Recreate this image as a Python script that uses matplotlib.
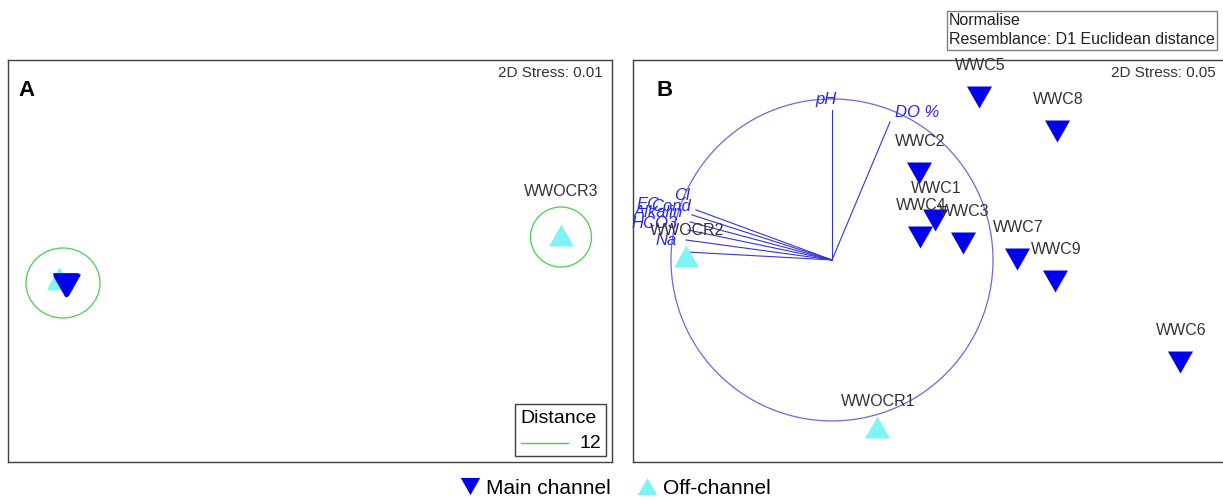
"""
nMDS ordinations of water chemistry: A) bubble plot, B) with vector overlay.
Writes out.png
"""

import matplotlib
matplotlib.use("Agg")
import matplotlib.pyplot as plt
from matplotlib.lines import Line2D
from matplotlib.patches import Ellipse, Rectangle

plt.rcParams["font.family"] = ["Liberation Sans", "DejaVu Sans"]

# ── Data ──────────────────────────────────────────────────────────────
# panel A: MDS coordinates
A_MAIN_X = [-2.45, -2.44, -2.43, -2.45, -2.44, -2.42, -2.45, -2.43, -2.44]
A_MAIN_Y = [-0.23, -0.24, -0.25, -0.23, -0.25, -0.24, -0.25, -0.23, -0.24]
A_OFF_X = [-2.51, -2.50, 2.51]
A_OFF_Y = [-0.17, -0.18, 0.26]
A_OFF_LABELS = ["", "", "WWOCR3"]
# distance bubbles (centre x, centre y, width, height)
A_BUBBLE_X = [-2.47, 2.51]
A_BUBBLE_Y = [-0.22, 0.24]
A_BUBBLE_W = [0.74, 0.61]
A_BUBBLE_H = [0.70, 0.60]
A_STRESS = 0.01
DISTANCE = 12

# panel B: MDS coordinates
B_MAIN_LABELS = ["WWC5", "WWC8", "WWC2", "WWC1", "WWC4", "WWC3", "WWC7", "WWC9", "WWC6"]
B_MAIN_X = [0.913, 1.398, 0.540, 0.640, 0.547, 0.814, 1.149, 1.385, 2.161]
B_MAIN_Y = [1.012, 0.801, 0.540, 0.248, 0.143, 0.106, 0.006, -0.130, -0.634]
B_OFF_LABELS = ["WWOCR2", "WWOCR1"]
B_OFF_X = [-0.907, 0.280]
B_OFF_Y = [0.025, -1.037]
B_STRESS = 0.05

# vector overlay (end points) and where the labels sit
VEC_NAMES = ["pH", "DO %", "Cl", "EC", "Cond", "Alkalin", "HCO3", "Na"]
VEC_X = [0.0, 0.360, -0.845, -0.870, -0.882, -0.894, -0.907, -0.913]
VEC_Y = [0.932, 0.857, 0.311, 0.280, 0.236, 0.186, 0.124, 0.050]
VEC_LAB_X = [-0.037, 0.528, -0.882, -1.068, -0.876, -0.925, -0.957, -0.963]
VEC_LAB_Y = [0.994, 0.919, 0.398, 0.342, 0.335, 0.292, 0.224, 0.118]
VEC_LAB_HA = ["center", "center", "right", "right", "right", "right", "right", "right"]

# ── Style ─────────────────────────────────────────────────────────────
MAIN_COLOR = "#0000ee"
OFF_COLOR = "#80f4f4"
VEC_COLOR = "#3535d0"
CIRCLE_COLOR = "#6a6ad8"
BUBBLE_COLOR = "#4ccc4c"
FRAME_COLOR = "#404040"
LABEL_COLOR = "#333333"

# triangles a bit wider than tall
DOWN = [(-1, 0.88), (1, 0.88), (0, -0.88)]
UP = [(-1, -0.88), (1, -0.88), (0, 0.88)]
MS = 18

fig = plt.figure(figsize=(12.23, 4.97), dpi=100)

ax_a = fig.add_axes([8 / 1223, 35 / 497, 604 / 1223, 402 / 497])
ax_b = fig.add_axes([633 / 1223, 35 / 497, 607 / 1223, 402 / 497])

for ax in (ax_a, ax_b):
    ax.set_xticks([])
    ax.set_yticks([])
    for s in ax.spines.values():
        s.set_color(FRAME_COLOR)
        s.set_linewidth(1.0)

# ── Panel A ───────────────────────────────────────────────────────────
ax_a.set_xlim(-3.02, 3.02)
ax_a.set_ylim(-2.01, 2.01)

for cx, cy, w, h in zip(A_BUBBLE_X, A_BUBBLE_Y, A_BUBBLE_W, A_BUBBLE_H):
    ax_a.add_patch(Ellipse((cx, cy), w, h, fill=False, edgecolor=BUBBLE_COLOR, lw=0.9))

ax_a.plot(A_OFF_X, A_OFF_Y, ls="none", marker=UP, ms=MS, color=OFF_COLOR, mec="none")
ax_a.plot(A_MAIN_X, A_MAIN_Y, ls="none", marker=DOWN, ms=MS, color=MAIN_COLOR, mec="none")
for x, y, lab in zip(A_OFF_X, A_OFF_Y, A_OFF_LABELS):
    if lab:
        ax_a.annotate(lab, (x, y), xytext=(0, 31), textcoords="offset points",
                      ha="center", va="center", fontsize=11.5, color=LABEL_COLOR)

ax_a.text(0.985, 0.968, f"2D Stress: {A_STRESS:.2f}", transform=ax_a.transAxes,
          ha="right", va="center", fontsize=11, color=LABEL_COLOR)
ax_a.text(0.018, 0.923, "A", transform=ax_a.transAxes, ha="left", va="center",
          fontsize=16, fontweight="bold")

# distance key
ax_a.add_patch(Rectangle((0.839, 0.015), 0.151, 0.129, transform=ax_a.transAxes,
                         fill=False, edgecolor=FRAME_COLOR, lw=1.0))
ax_a.text(0.912, 0.108, "Distance", transform=ax_a.transAxes, ha="center",
          va="center", fontsize=14)
ax_a.plot([0.849, 0.927], [0.047, 0.047], transform=ax_a.transAxes,
          color=BUBBLE_COLOR, lw=1.0)
ax_a.text(0.982, 0.047, str(DISTANCE), transform=ax_a.transAxes, ha="right",
          va="center", fontsize=14)

# ── Panel B ───────────────────────────────────────────────────────────
ax_b.set_xlim(-1.236, 2.534)
ax_b.set_ylim(-1.255, 1.242)

ax_b.add_patch(Ellipse((0, 0), 2, 2, fill=False, edgecolor=CIRCLE_COLOR, lw=0.9))
for vx, vy in zip(VEC_X, VEC_Y):
    ax_b.plot([0, vx], [0, vy], color=VEC_COLOR, lw=0.8)
for name, lx, ly, ha in zip(VEC_NAMES, VEC_LAB_X, VEC_LAB_Y, VEC_LAB_HA):
    ax_b.text(lx, ly, name, ha=ha, va="center", fontsize=12, style="italic",
              color="#2a2ae0")

ax_b.plot(B_OFF_X, B_OFF_Y, ls="none", marker=UP, ms=MS, color=OFF_COLOR, mec="none")
ax_b.plot(B_MAIN_X, B_MAIN_Y, ls="none", marker=DOWN, ms=MS, color=MAIN_COLOR, mec="none")

for x, y, lab in zip(B_MAIN_X, B_MAIN_Y, B_MAIN_LABELS):
    ax_b.annotate(lab, (x, y), xytext=(1, 22.5), textcoords="offset points",
                  ha="center", va="center", fontsize=11.5, color=LABEL_COLOR)
for x, y, lab in zip(B_OFF_X, B_OFF_Y, B_OFF_LABELS):
    ax_b.annotate(lab, (x, y), xytext=(1, 18.5), textcoords="offset points",
                  ha="center", va="center", fontsize=11.5, color=LABEL_COLOR)

ax_b.text(0.7875, 0.968, f"2D Stress: {B_STRESS:.2f}", transform=ax_b.transAxes,
          ha="left", va="center", fontsize=11, color=LABEL_COLOR)
ax_b.text(0.038, 0.923, "B", transform=ax_b.transAxes, ha="left", va="center",
          fontsize=16, fontweight="bold")

# ── Figure-level annotations ──────────────────────────────────────────
fig.text(949 / 1223, 1 - 13 / 497, "Normalise\nResemblance: D1 Euclidean distance",
         ha="left", va="top", fontsize=11.5, linespacing=1.35, color="#222222",
         bbox=dict(boxstyle="square,pad=0.15", facecolor="white",
                   edgecolor="#808080", lw=1.0))

handles = [
    Line2D([], [], ls="none", marker=DOWN, ms=14, color=MAIN_COLOR, mec="none"),
    Line2D([], [], ls="none", marker=UP, ms=14, color=OFF_COLOR, mec="none"),
]
fig.legend(handles, ["Main channel", "Off-channel"], loc="center",
           bbox_to_anchor=(0.503, 1 - 488 / 497), ncol=2, frameon=False,
           fontsize=15, handletextpad=0.3, columnspacing=1.2, handlelength=1.0,
           borderaxespad=0, borderpad=0)

fig.savefig("out.png", dpi=100)
